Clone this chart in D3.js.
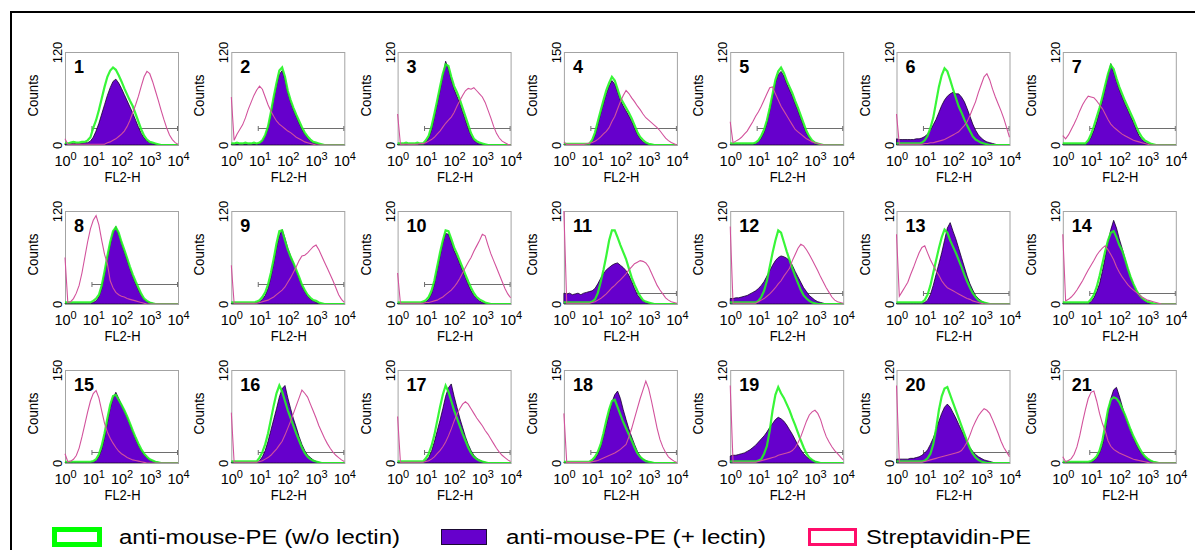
<!DOCTYPE html>
<html>
<head>
<meta charset="utf-8">
<script src="https://cdn.jsdelivr.net/npm/d3@7"></script>
<style>
  html, body { margin: 0; padding: 0; background: #fff; }
  svg { display: block; font-family: "Liberation Sans", Arial, Helvetica, sans-serif; }
</style>
</head>
<body>
<svg id="chart" width="1195" height="550"></svg>
<script>
// Histogram channels, as log10 of the FL2-H intensity (10^0 .. 10^4)
const binExponents = [0,0.1,0.2,0.3,0.4,0.5,0.6,0.7,0.8,0.9,1,1.1,1.2,1.3,1.4,1.5,1.6,1.7,1.8,1.9,2,
  2.1,2.2,2.3,2.4,2.5,2.6,2.7,2.8,2.9,3,3.1,3.2,3.3,3.4,3.5,3.6,3.7,3.8,3.9,4];

const panelLabels = ["1","2","3","4","5","6","7","8","9","10","11","12","13","14","15","16","17","18","19","20","21"];
const yMaxima = [120,120,120,150,120,120,120, 120,120,120,120,120,120,120, 150,120,120,150,120,120,150];
const xTickExponents = [0,1,2,3,4];
// Marker gate: counts level of the horizontal bar, from FL2-H = 9 up to 10^4
const gateCounts = [22,22,22,27,22,22,22, 26,26,26,14,14,14,14, 18,14,14,18,14,14,18];
const gateFrom = 9, gateTo = 10000;

// anti-mouse-PE (w/o lectin) - green outline
const withoutLectin = [
  [3,2,3,4,3,3,4,4,6,10,22,32,45,60,75,88,96,100,97,90,82,73,65,57,50,40,30,20,12,7,4,3,2,1,0,0,0,0,0,0,0],
  [2,2,3,2,2,3,2,2,3,2,3,6,13,24,42,62,80,96,100,88,70,58,48,39,31,23,16,11,7,4,3,2,1,0,0,0,0,0,0,0,0],
  [2,2,2,3,2,2,2,3,2,2,6,12,24,40,57,75,92,104,102,88,76,68,59,48,37,26,15,8,5,3,2,1,0,0,0,0,0,0,0,0,0],
  [2,2,2,2,2,2,2,2,2,2,8,20,38,55,72,88,100,110,104,90,76,68,60,52,43,32,21,13,8,4,2,1,0,0,0,0,0,0,0,0,0],
  [2,2,2,2,2,2,2,2,2,3,6,12,20,32,48,66,84,95,100,93,83,75,67,57,48,38,28,18,11,6,3,2,1,0,0,0,0,0,0,0,0],
  [2,2,2,2,2,2,2,2,2,3,6,12,22,35,55,75,90,99,95,84,72,61,50,42,33,25,18,11,7,5,3,2,1,0,0,0,0,0,0,0,0],
  [2,2,2,2,2,2,2,2,2,6,14,24,36,48,62,77,92,103,98,86,75,66,57,49,41,33,24,16,10,6,4,2,1,0,0,0,0,0,0,0,0],
  [2,2,2,2,2,2,2,2,2,2,4,7,12,24,42,62,80,94,99,92,80,70,59,48,38,29,21,13,7,4,2,1,0,0,0,0,0,0,0,0,0],
  [2,2,2,2,2,2,2,2,2,3,5,9,15,25,40,58,78,94,95,82,70,61,53,44,35,25,18,12,8,5,4,2,1,0,0,0,0,0,0,0,0],
  [2,2,2,2,2,2,2,2,2,3,5,9,17,30,48,66,82,95,94,84,73,65,56,47,38,29,21,14,9,6,4,2,1,0,0,0,0,0,0,0,0],
  [2,2,2,2,2,2,2,2,2,2,3,6,14,28,44,62,82,95,95,86,76,67,58,46,34,25,17,10,5,3,2,1,0,0,0,0,0,0,0,0,0],
  [2,2,2,2,2,2,2,2,2,2,4,9,17,30,48,66,82,95,92,80,68,57,46,36,27,18,11,7,4,2,1,0,0,0,0,0,0,0,0,0,0],
  [2,2,2,2,2,2,2,2,2,2,5,12,24,40,56,72,86,96,92,82,74,66,57,48,38,29,21,14,9,5,3,2,1,0,0,0,0,0,0,0,0],
  [2,2,2,2,2,2,2,2,2,2,6,12,22,36,52,68,82,92,94,86,76,69,58,46,35,26,18,12,8,5,3,2,1,0,0,0,0,0,0,0,0],
  [2,2,2,2,2,2,2,2,2,2,3,6,14,28,48,72,94,108,110,102,94,85,75,64,52,41,31,22,15,10,6,4,2,1,0,0,0,0,0,0,0],
  [2,2,2,2,2,2,2,2,2,2,7,14,24,38,56,74,90,100,92,80,68,58,48,38,29,20,13,8,5,3,2,1,0,0,0,0,0,0,0,0,0],
  [2,2,2,2,2,2,2,2,2,2,6,12,22,36,54,72,88,100,92,80,68,58,48,38,29,20,13,8,5,3,2,1,0,0,0,0,0,0,0,0,0],
  [2,2,2,2,2,2,2,2,2,2,5,10,18,30,48,68,86,100,102,90,78,66,56,46,36,25,16,10,6,3,2,1,0,0,0,0,0,0,0,0,0],
  [2,2,2,2,2,2,2,2,2,2,3,5,12,22,42,68,88,98,90,84,76,68,58,49,39,29,20,12,7,4,2,1,0,0,0,0,0,0,0,0,0],
  [2,2,2,2,2,2,2,2,2,2,3,6,12,24,44,68,86,96,98,88,78,68,58,48,38,28,19,12,7,4,2,1,0,0,0,0,0,0,0,0,0],
  [2,2,2,2,2,2,2,2,2,2,3,6,11,20,36,60,86,102,106,104,98,88,78,66,54,43,34,25,17,11,7,4,2,1,0,0,0,0,0,0,0]
];

// anti-mouse-PE (+ lectin) - filled purple
const withLectin = [
  [2,2,2,2,2,2,2,3,3,5,10,18,28,40,52,64,74,82,85,80,73,65,57,49,41,32,23,15,9,5,3,2,1,0,0,0,0,0,0,0,0],
  [1,1,1,1,1,1,1,1,1,1,2,5,11,21,38,58,76,91,96,84,67,55,45,36,28,20,14,9,5,3,2,1,0,0,0,0,0,0,0,0,0],
  [1,1,1,1,1,1,1,1,1,1,4,9,19,35,52,70,88,108,98,84,72,63,54,43,32,21,12,6,3,2,1,0,0,0,0,0,0,0,0,0,0],
  [1,1,1,1,1,1,1,1,1,1,5,15,32,50,66,82,95,104,98,85,72,63,55,47,38,27,17,10,5,3,1,0,0,0,0,0,0,0,0,0,0],
  [1,1,1,1,1,1,1,1,1,2,4,9,16,28,44,62,80,91,95,89,79,71,63,53,44,34,24,15,9,4,2,1,0,0,0,0,0,0,0,0,0],
  [8,7,7,7,7,7,7,8,8,9,11,14,19,26,33,42,51,58,63,66,68,66,66,62,56,47,37,27,19,13,9,6,4,3,2,1,0,0,0,0,0],
  [1,1,1,1,1,1,1,1,1,4,10,19,30,43,57,72,90,105,94,82,71,62,53,45,37,29,20,12,7,4,2,1,0,0,0,0,0,0,0,0,0],
  [1,1,1,1,1,1,1,1,1,1,2,4,9,20,38,58,76,92,100,90,78,67,56,45,35,26,18,11,6,3,2,1,0,0,0,0,0,0,0,0,0],
  [1,1,1,1,1,1,1,1,1,2,3,6,11,20,34,52,72,88,96,85,72,62,53,43,33,23,16,10,6,4,2,1,0,0,0,0,0,0,0,0,0],
  [1,1,1,1,1,1,1,1,1,2,3,6,13,25,43,61,78,91,90,80,69,61,52,43,34,25,17,11,7,4,2,1,0,0,0,0,0,0,0,0,0],
  [14,13,14,12,13,14,12,14,15,16,17,20,26,33,39,44,47,50,52,53,50,47,43,37,29,20,12,7,4,2,1,0,0,0,0,0,0,0,0,0,0],
  [7,7,8,8,9,10,11,13,15,17,20,24,29,36,43,50,56,60,62,61,59,56,50,42,35,28,21,16,11,8,5,3,2,1,0,0,0,0,0,0,0],
  [1,1,1,1,1,1,1,1,1,1,2,5,12,24,38,52,66,82,98,105,94,84,72,60,48,36,26,18,11,7,4,2,1,0,0,0,0,0,0,0,0],
  [1,1,1,1,1,1,1,1,1,1,3,8,16,26,42,60,80,96,108,98,84,72,59,46,35,25,17,11,7,4,2,1,0,0,0,0,0,0,0,0,0],
  [1,1,1,1,1,1,1,1,1,1,2,4,10,22,40,64,88,104,114,104,94,84,73,62,50,38,28,20,13,8,5,3,2,1,0,0,0,0,0,0,0],
  [1,1,1,1,1,1,1,1,1,1,3,8,16,28,42,56,70,85,96,100,84,70,57,46,34,24,16,10,7,4,2,1,0,0,0,0,0,0,0,0,0],
  [1,1,1,1,1,1,1,1,1,1,3,7,15,27,41,55,70,86,97,102,86,72,58,46,34,24,16,10,6,4,2,1,0,0,0,0,0,0,0,0,0],
  [1,1,1,1,1,1,1,1,1,1,3,7,14,26,42,60,80,98,110,116,104,86,70,55,42,30,19,11,6,4,2,1,0,0,0,0,0,0,0,0,0],
  [9,10,10,11,12,13,15,17,20,23,27,31,35,40,46,51,56,59,57,54,49,43,37,30,23,17,12,8,5,4,2,1,0,0,0,0,0,0,0,0,0],
  [5,5,5,5,5,6,6,7,8,10,13,17,24,32,42,54,64,72,76,72,65,58,50,42,34,27,20,15,11,8,6,4,3,2,1,0,0,0,0,0,0],
  [1,1,1,1,1,1,1,1,1,1,2,4,8,16,28,50,80,104,118,122,108,92,76,64,52,40,30,21,15,10,6,4,2,1,0,0,0,0,0,0,0]
];

// Streptavidin-PE - pink outline
const streptavidin = [
  [8,1,1,1,1,1,1,1,1,1,1,1,1,1,1,3,4,6,8,11,14,18,24,32,42,52,63,76,88,95,92,82,70,58,45,33,22,13,7,3,1],
  [62,6,14,20,26,35,46,55,64,71,76,72,62,52,44,37,31,27,24,21,18,16,13,10,8,6,4,3,2,1,0,0,0,0,0,0,0,0,0,0,0],
  [40,1,1,1,1,1,1,1,2,2,3,5,7,10,14,18,23,28,32,36,42,50,57,64,70,73,72,74,70,66,62,55,45,35,24,15,9,5,3,1,0],
  [5,1,1,1,1,1,1,1,2,3,4,6,9,13,18,22,28,38,46,58,70,80,88,83,76,70,63,57,50,44,40,36,32,28,23,17,11,7,4,2,0],
  [30,3,5,7,10,14,18,24,30,37,43,50,58,66,74,75,66,58,50,44,38,32,26,20,17,14,11,8,6,4,3,2,1,0,0,0,0,0,0,0,0],
  [40,1,1,1,1,1,1,1,1,1,2,2,3,3,4,5,6,7,9,11,13,15,17,21,25,30,38,47,56,68,78,88,92,84,72,62,53,44,34,22,10],
  [12,8,13,20,27,35,44,52,58,63,62,61,57,52,47,40,33,27,23,20,17,14,12,10,8,6,5,4,3,2,1,0,0,0,0,0,0,0,0,0,0],
  [60,2,3,7,14,24,40,60,80,97,108,114,102,82,64,52,30,21,15,12,10,9,7,6,5,4,3,2,1,0,0,0,0,0,0,0,0,0,0,0,0],
  [50,1,1,1,1,1,1,1,1,1,2,3,4,5,7,9,12,15,18,22,28,34,41,48,56,62,63,66,70,74,76,70,62,54,46,38,30,21,12,6,2],
  [40,1,1,1,1,1,1,1,1,1,2,2,3,4,5,7,9,12,15,18,22,27,33,40,47,54,60,68,75,82,90,88,76,65,56,47,38,29,20,13,8],
  [120,1,1,1,1,1,1,1,1,1,2,3,5,7,10,13,17,21,24,28,31,35,39,44,48,52,54,56,55,53,48,40,32,24,18,13,8,5,3,2,1],
  [100,1,1,1,1,1,1,1,1,1,3,5,7,10,13,17,21,26,30,36,41,46,56,64,72,77,75,70,64,57,50,43,35,28,21,15,9,5,3,2,1],
  [90,10,16,22,28,38,47,57,66,73,75,66,57,50,43,37,30,25,21,19,17,15,13,11,9,7,6,4,3,2,1,0,0,0,0,0,0,0,0,0,0],
  [90,4,6,9,13,18,24,30,37,44,50,56,63,68,72,75,70,64,57,48,41,35,30,25,21,18,15,12,9,7,5,4,3,2,1,0,0,0,0,0,0],
  [15,2,3,6,12,24,42,62,82,100,112,117,105,84,64,50,40,32,25,19,15,12,9,7,5,4,3,2,1,0,0,0,0,0,0,0,0,0,0,0,0],
  [65,1,1,1,1,1,1,1,1,1,2,3,5,7,10,14,18,23,28,36,45,54,64,74,84,94,90,85,76,67,58,48,40,32,25,19,14,10,7,4,2],
  [60,1,1,1,1,1,1,1,1,1,2,3,5,8,12,16,21,27,35,44,54,63,70,76,79,76,70,64,58,53,48,42,37,31,25,19,14,10,7,4,2],
  [80,1,1,1,1,1,1,1,1,1,2,3,4,6,8,10,12,14,16,19,22,26,30,42,56,72,88,104,118,132,120,100,78,56,38,26,17,10,6,3,1],
  [100,1,1,1,1,1,1,1,1,1,2,3,4,5,6,7,8,10,11,12,13,14,16,20,26,34,44,54,62,66,68,64,56,44,34,27,21,16,12,8,4],
  [100,1,1,1,1,1,1,1,1,1,2,3,4,5,6,7,8,9,10,11,12,13,14,16,21,27,36,46,54,61,66,70,68,64,56,47,38,28,20,14,8],
  [10,2,4,7,14,26,44,66,86,104,114,116,100,80,64,52,36,27,22,19,16,14,12,10,8,6,5,4,3,2,1,0,0,0,0,0,0,0,0,0,0]
];

const legendLabels = ["anti-mouse-PE (w/o lectin)", "anti-mouse-PE (+ lectin)", "Streptavidin-PE"];

// ---- layout & styling ----
const COLORS = { green: "#22f522", purple: "#6600cc", purpleEdge: "#14002a", pink: "#d2529c", box: "#a3a3a3", gate: "#6e6e6e" };
const boxW = 113, boxH = 93;
const colLeft = 65, colStep = 166.3;
const rowTops = [52, 211, 370];
const FONT = '"Liberation Sans", Arial, Helvetica, sans-serif';

const svg = d3.select("#chart");
svg.append("rect").attr("width", 1195).attr("height", 550).attr("fill", "#fff");

// outer frame (left and top edges)
svg.append("path").attr("d", "M11,551V12H1196")
  .attr("fill", "none").attr("stroke", "#000").attr("stroke-width", 2);

const x = d3.scaleLog().domain([1, 1e4]).range([0, boxW]);

panelLabels.forEach((label, i) => {
  const col = i % 7, row = Math.floor(i / 7);
  const g = svg.append("g")
    .attr("transform", `translate(${colLeft + col * colStep},${rowTops[row]})`);
  const y = d3.scaleLinear().domain([0, yMaxima[i]]).range([boxH, 0]);

  const pts = s => binExponents.map((e, j) => [Math.pow(10, e), s[j]]);

  g.append("clipPath").attr("id", "clip" + i)
    .append("rect").attr("x", -1).attr("y", -1).attr("width", boxW + 2).attr("height", boxH + 1);

  // plot frame
  g.append("rect").attr("x", 0.5).attr("y", 0.5).attr("width", boxW).attr("height", boxH)
    .attr("fill", "#fff").attr("stroke", COLORS.box).attr("stroke-width", 1);

  const plot = g.append("g").attr("clip-path", `url(#clip${i})`);

  // marker gate
  const gy = Math.round(y(gateCounts[i])) + 0.5;
  const gx0 = x(gateFrom), gx1 = x(gateTo) - 0.5;
  plot.append("path")
    .attr("d", `M${gx0},${gy}H${gx1}M${gx0},${gy - 2.5}V${gy + 2.5}M${gx1},${gy - 2.5}V${gy + 2.5}`)
    .attr("fill", "none").attr("stroke", COLORS.gate).attr("stroke-width", 1);

  const area = d3.area().x(d => x(d[0])).y0(boxH).y1(d => y(d[1]));
  const line = d3.line().x(d => x(d[0])).y(d => y(d[1]));

  plot.append("path").datum(pts(withLectin[i])).attr("d", area)
    .attr("fill", COLORS.purple).attr("stroke", COLORS.purpleEdge).attr("stroke-width", 0.8);
  plot.append("path").datum(pts(withoutLectin[i])).attr("d", line)
    .attr("fill", "none").attr("stroke", COLORS.green).attr("stroke-width", 2.2).attr("stroke-opacity", 0.9);
  plot.append("path").datum(pts(streptavidin[i])).attr("d", line)
    .attr("fill", "none").attr("stroke", COLORS.pink).attr("stroke-width", 1.1);

  // x axis: decade labels 10^n
  const xa = g.append("g").attr("transform", `translate(0,${boxH})`)
    .call(d3.axisBottom(x).tickValues(xTickExponents.map(e => Math.pow(10, e))).tickSize(0).tickFormat(""));
  xa.select(".domain").remove();
  xa.attr("font-family", FONT).attr("font-size", 14.5);
  xa.selectAll(".tick text").each(function (d, k) {
    const t = d3.select(this).attr("y", 21).attr("dy", null).attr("fill", "#000");
    t.append("tspan").text("10");
    t.append("tspan").attr("dy", -6).attr("font-size", 11).text(xTickExponents[k]);
  });

  // y axis: 0 and max, rotated
  const ya = g.append("g").call(d3.axisLeft(y).tickValues([0, yMaxima[i]]).tickSize(0));
  ya.select(".domain").remove();
  ya.attr("font-family", FONT).attr("font-size", 13);
  ya.selectAll(".tick text")
    .attr("x", 0).attr("y", -3).attr("dy", null)
    .attr("transform", "rotate(-90)").attr("text-anchor", "middle").attr("fill", "#000");

  g.append("text").attr("transform", `translate(-27,${boxH / 2 - 3}) rotate(-90)`)
    .attr("text-anchor", "middle").attr("font-family", FONT).attr("font-size", 14.5)
    .attr("textLength", 42).attr("lengthAdjust", "spacingAndGlyphs").text("Counts");
  g.append("text").attr("x", boxW / 2 - 17).attr("y", boxH + 37)
    .attr("font-family", FONT).attr("font-size", 14.5)
    .attr("textLength", 36).attr("lengthAdjust", "spacingAndGlyphs").text("FL2-H");

  g.append("text").attr("x", 9).attr("y", 21)
    .attr("font-family", FONT).attr("font-size", 18).attr("font-weight", "bold").text(label);
});

// legend
const legend = svg.append("g").attr("font-family", FONT).attr("font-size", 20);
const swatches = [
  { x: 54.5, y: 529.5, w: 45, h: 15, fill: "#fff", stroke: "#00ff00", sw: 5 },
  { x: 441.5, y: 529.5, w: 45, h: 15, fill: COLORS.purple, stroke: "#1a0a33", sw: 1 },
  { x: 809.5, y: 529.5, w: 46, h: 15, fill: "#fff", stroke: "#ff0d6a", sw: 3 }
];
const legendText = [ { x: 119, len: 281 }, { x: 506, len: 260 }, { x: 866, len: 165 } ];
legendLabels.forEach((lab, k) => {
  const s = swatches[k];
  legend.append("rect").attr("x", s.x).attr("y", s.y).attr("width", s.w).attr("height", s.h)
    .attr("fill", s.fill).attr("stroke", s.stroke).attr("stroke-width", s.sw);
  legend.append("text").attr("x", legendText[k].x).attr("y", 544)
    .attr("textLength", legendText[k].len).attr("lengthAdjust", "spacingAndGlyphs").text(lab);
});
</script>
</body>
</html>
